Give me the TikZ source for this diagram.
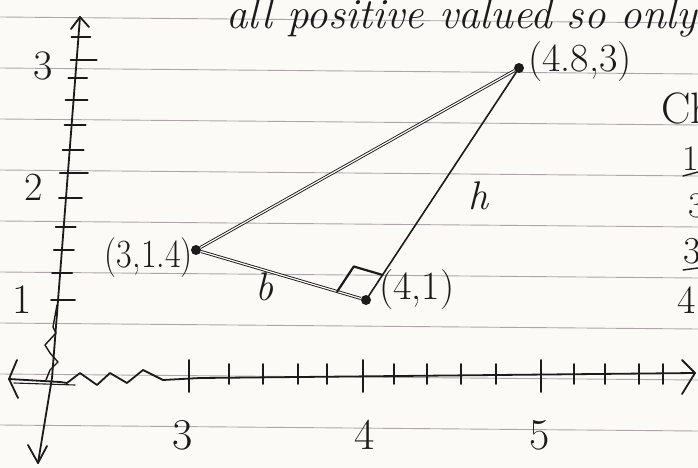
\documentclass[tikz,border=0pt]{standalone}
\usetikzlibrary{calc}
\definecolor{paper}{HTML}{FBFAF7}
\definecolor{rulec}{HTML}{ADA5AA}
\definecolor{inkc}{HTML}{1C1A1A}
\begin{document}
\begin{tikzpicture}[x=1pt,y=-1pt,
  ink/.style={line width=1.8pt, draw=inkc, line cap=round, line join=round},
  dbl/.style={line width=0.9pt, draw=inkc, double=paper, double distance=1.2pt},
  rule/.style={line width=0.9pt, draw=rulec},
  lbl/.style={font=\fontsize{40}{42}\selectfont, text=inkc, inner sep=0pt},
  vdot/.style={circle, fill=inkc, inner sep=0pt, minimum size=10pt}]
\useasboundingbox (0,0) rectangle (698,468);
\clip (0,0) rectangle (698,468);
\fill[paper] (0,0) rectangle (698,468);
% ruled paper
\foreach \k in {0,...,8} \draw[rule] (0,{17+51*\k}) -- (698,{23+51*\k});

% top handwritten sentence and cut-off margin notes
\node[lbl, font=\fontsize{43}{45}\selectfont\itshape, anchor=base west] (top) at (226,29) {all positive valued so only};
\node[lbl, font=\fontsize{44}{46}\selectfont, anchor=base west] (ch) at (661,124) {Ch};
\node[lbl, font=\fontsize{36}{38}\selectfont, anchor=base west] (n1) at (682,170) {1};
\node[lbl, font=\fontsize{36}{38}\selectfont, anchor=base west] (n2) at (688,217) {3};
\node[lbl, font=\fontsize{38}{40}\selectfont, anchor=base west] (n3) at (683,263) {3};
\node[lbl, font=\fontsize{40}{42}\selectfont, anchor=base west] (n4) at (677,313) {4};
\draw[ink, line width=1.4pt] (683,176) -- (698,172);
\draw[ink, line width=1.4pt] (683,270) -- (698,268);

% y axis
\coordinate (ytop) at (80,17);
\coordinate (ymid) at (52,378);
\coordinate (ybot) at (38,463);
\draw[ink] (ybot) -- (ymid) -- (ytop);
\draw[ink] (71,29) -- (ytop) -- (89,27);
\draw[ink] (28,445) -- (ybot) -- (47,446);
\foreach \yy/\l/\r in {37/7/12, 60/6/20, 78/7/12, 100/8/14, 125/7/14, 150/7/14, 173/8/20, 198/7/16, 227/8/12, 250/8/12, 273/8/12, 300/7/17} {
  \pgfmathsetmacro{\xx}{80-0.0776*(\yy-17)}
  \draw[ink] ({\xx-\l},\yy) -- ({\xx+\r},\yy);
}
\draw[ink, line width=1.4pt] (57,305) -- (53,327) -- (56,333) -- (45,345) -- (50,353) -- (58,362) -- (50,370) -- (46,380);
\node[lbl, font=\fontsize{42}{44}\selectfont] (y3) at (43,66) {3};
\node[lbl, font=\fontsize{40}{42}\selectfont] (y2) at (34,187) {2};
\node[lbl, font=\fontsize{42}{44}\selectfont] (y1) at (22,300) {1};

% x axis
\coordinate (xl) at (9,379);
\coordinate (xr) at (695,373);
\draw[ink] (xl) -- (60,382) -- (67,383) -- (80,373) -- (97,385) -- (110,373) -- (127,383) -- (143,370) -- (163,380) -- (200,378) -- (xr);
\draw[ink, line width=1.1pt] (14,383) -- (75,385);
\draw[ink] (17,360) -- (xl) -- (18,398);
\draw[ink] (682,360) -- (xr) -- (682,394);
\foreach \xx in {189,363,541} \draw[ink] (\xx,360) -- (\xx,392);
\foreach \xx in {229,263,298,327,394,427,461,496,574,605,639,663} \draw[ink] (\xx,364) -- (\xx,384);
\node[lbl, font=\fontsize{44}{46}\selectfont] (x3) at (183,435) {3};
\node[lbl, font=\fontsize{44}{46}\selectfont] (x4) at (365,435) {4};
\node[lbl, font=\fontsize{44}{46}\selectfont] (x5) at (540,435) {5};

% triangle
\node[vdot] (A) at (196,250) {};
\node[vdot] (B) at (366,300) {};
\node[vdot] (C) at (519,68) {};
\draw[dbl] (A) -- (C);
\draw[dbl] (A) -- (B);
\draw[ink, line width=1.6pt] (B) -- (C);
\coordinate (P1) at ($(B.center)!30pt!(A.center)$);
\coordinate (P3) at ($(B.center)!30pt!(C.center)$);
\draw[ink, line width=2.2pt] (P1) -- ($(P1)+(P3)-(B.center)$) -- (P3);

\node[lbl, anchor=west] (lC) at (528,62) {(4.8,3)};
\node[lbl, anchor=east, xscale=0.85] (lA) at (193,258) {(3,1.4)};
\node[lbl, anchor=west] (lB) at (379,290) {(4,1)};
\node[lbl, font=\fontsize{40}{42}\selectfont\itshape] (h) at (478,196) {h};
\node[lbl, font=\fontsize{40}{42}\selectfont\itshape] (b) at (264,287) {b};
\end{tikzpicture}
\end{document}
